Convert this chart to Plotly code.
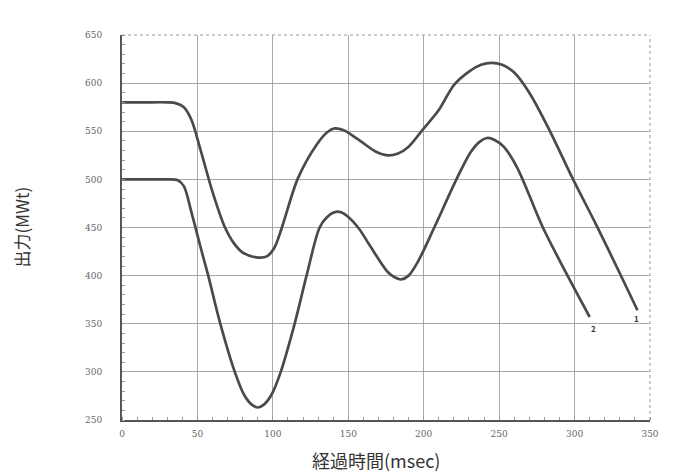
import plotly.graph_objects as go

# Curve 1 (upper)
x1 = [0, 15, 30, 36, 41, 46, 52, 60, 68, 74, 80, 89, 96, 101, 106, 116.6, 129, 136, 141, 147, 157, 168, 176, 183, 190, 199, 210, 220, 230, 238, 245, 252, 260, 270, 283.4, 298.7, 314.6, 329.8, 341.7]
y1 = [580, 580, 580, 579, 575, 562, 531, 487, 451, 434, 424, 419, 420, 429, 450, 501, 536, 549, 553, 551, 541, 529, 525, 527, 534, 551, 572, 598, 612, 619, 621, 619, 611, 590, 551, 501, 452, 403, 364]

# Curve 2 (lower)
x2 = [0, 15, 30, 37, 41, 46, 52, 57, 65, 75, 81, 86, 90, 94, 99, 105, 114.6, 122.5, 131, 136, 141, 145, 150, 157, 164, 176, 181, 185, 190, 196, 207, 222, 231, 237, 242, 247, 253, 262, 279, 295, 310]
y2 = [500, 500, 500, 499, 493, 466, 430, 401, 351, 299, 276, 266, 263, 266, 276, 299, 351, 401, 450, 461, 466, 466, 461, 449, 432, 404, 398, 396, 400, 414, 450, 501, 528, 539, 543, 541, 534, 512, 450, 401, 357]

x_ticks = [0, 50, 100, 150, 200, 250, 300, 350]
y_ticks = [250, 300, 350, 400, 450, 500, 550, 600, 650]
curve_labels = ["1", "2"]

x_title = "経過時間(msec)"
y_title = "出力(MWt)"

line_color = "#4a4a4a"
font_family = "Noto Sans CJK JP, Noto Sans, sans-serif"

fig = go.Figure()
fig.add_trace(go.Scatter(x=x1, y=y1, mode="lines", line=dict(color=line_color, width=2.7, shape="spline", smoothing=0.9), showlegend=False))
fig.add_trace(go.Scatter(x=x2, y=y2, mode="lines", line=dict(color=line_color, width=2.7, shape="spline", smoothing=0.9), showlegend=False))

# curve end labels
fig.add_annotation(x=x1[-1], y=y1[-1], text="<b>" + curve_labels[0] + "</b>", showarrow=False, yshift=-8, xshift=-1,
                   font=dict(size=8, color="#333", family=font_family))
fig.add_annotation(x=x2[-1], y=y2[-1], text="<b>" + curve_labels[1] + "</b>", showarrow=False, yshift=-11, xshift=4,
                   font=dict(size=8, color="#333", family=font_family))

# dotted top and right borders
fig.add_shape(type="line", xref="x domain", yref="y domain", x0=0, x1=1, y0=1, y1=1,
              line=dict(color="#9a9a9a", width=1, dash="dot"))
fig.add_shape(type="line", xref="x domain", yref="y domain", x0=1, x1=1, y0=0, y1=1,
              line=dict(color="#9a9a9a", width=1, dash="dot"))

fig.update_xaxes(range=[0, 350], tickvals=x_ticks, ticktext=[str(v) for v in x_ticks],
                 showgrid=True, gridcolor="#a8a8a8", gridwidth=1,
                 showline=True, linecolor="#555", linewidth=2, zeroline=False,
                 ticks="", ticklabelstandoff=4, tickfont=dict(size=9, color="#666", family="DejaVu Serif"),
                 minor=dict(ticks="inside", ticklen=3, tickcolor="#999", dtick=10, showgrid=False))
fig.update_yaxes(range=[250, 650], tickvals=y_ticks, ticktext=[str(v) for v in y_ticks],
                 showgrid=True, gridcolor="#a8a8a8", gridwidth=1,
                 showline=True, linecolor="#555", linewidth=2, zeroline=False,
                 ticks="", ticklabelstandoff=16, tickfont=dict(size=9, color="#666", family="DejaVu Serif"),
                 minor=dict(ticks="inside", ticklen=3, tickcolor="#999", dtick=10, showgrid=False))

fig.add_annotation(xref="paper", yref="paper", x=0.5, y=0, yshift=-40, xshift=-10, xanchor="center", yanchor="middle",
                   text=x_title, showarrow=False,
                   font=dict(size=18, color="#333", family=font_family))
fig.add_annotation(xref="paper", yref="paper", x=0, y=0.5, xshift=-101, xanchor="center", yanchor="middle",
                   text=y_title, showarrow=False, textangle=-90,
                   font=dict(size=17, color="#333", family=font_family))

# page body has an 8px margin, so the figure is sized to fit the window inside it
fig.update_layout(width=666, height=467,
                  margin=dict(l=114, r=24, t=27, b=55),
                  paper_bgcolor="white", plot_bgcolor="white",
                  font=dict(family=font_family))

fig.write_html("out.html")
